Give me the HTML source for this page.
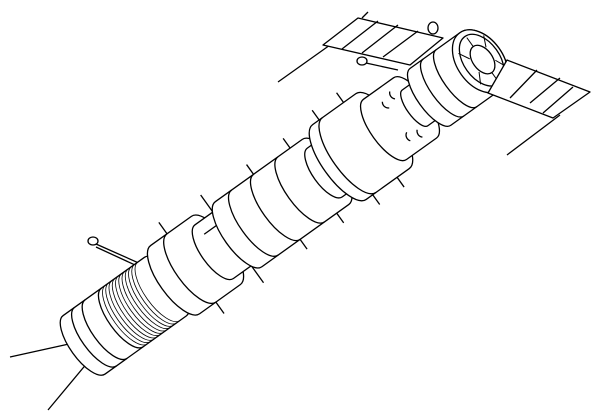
<!DOCTYPE html>
<html><head><style>html,body{margin:0;padding:0;background:#fff}svg{display:block}</style></head>
<body>
<svg width="600" height="420" viewBox="0 0 600 420" xmlns="http://www.w3.org/2000/svg" fill="#fff" stroke="#000" stroke-width="1.3" stroke-linejoin="round">
<line x1="10" y1="357" x2="78" y2="342"/>
<line x1="48" y1="410" x2="88" y2="362"/>
<line x1="278" y1="82" x2="330" y2="45"/>
<line x1="507" y1="155" x2="560" y2="115"/>
<line x1="96" y1="244" x2="150" y2="268"/>
<line x1="96" y1="247" x2="148" y2="271"/>
<ellipse cx="93" cy="241" rx="5" ry="4"/>
<g transform="translate(102,332) rotate(-35.6)">
  <g fill="none">
    <line x1="110" y1="-56" x2="110" y2="56"/>
    <line x1="160" y1="-54" x2="160" y2="54"/>
    <line x1="215" y1="-52" x2="215" y2="52"/>
    <line x1="260" y1="-52" x2="260" y2="52"/>
    <line x1="300" y1="-58" x2="300" y2="58"/>
    <line x1="330" y1="-58" x2="330" y2="58"/>
  </g>
  <path d="M-22,-36 L78,-36 A14,36 0 0 1 78,36 L-22,36 A14,36 0 0 1 -22,-36Z"/>
  <path d="M-8,-36 A14,36 0 0 0 -8,36 M5,-36 A14,36 0 0 0 5,36 M25,-36 A14,36 0 0 0 25,36" fill="none"/>
  <g fill="none" stroke-width="0.8">
    <path d="M30,-36 A14,36 0 0 0 30,36 M34,-36 A14,36 0 0 0 34,36 M38,-36 A14,36 0 0 0 38,36 M42,-36 A14,36 0 0 0 42,36 M46,-36 A14,36 0 0 0 46,36 M50,-36 A14,36 0 0 0 50,36 M54,-36 A14,36 0 0 0 54,36 M58,-36 A14,36 0 0 0 58,36 M62,-36 A14,36 0 0 0 62,36 M66,-36 A14,36 0 0 0 66,36 M70,-36 A14,36 0 0 0 70,36"/>
  </g>
  <path d="M90,-42 L140,-42 A16,42 0 0 1 140,42 L90,42 A16,42 0 0 1 90,-42Z"/>
  <path d="M110,-42 A16,42 0 0 0 110,42" fill="none"/>
  <path d="M138,-33 L170,-33 A13,33 0 0 1 170,33 L138,33 A13,33 0 0 1 138,-33Z"/>
  <line x1="140" y1="-20" x2="168" y2="-20"/>
  <path d="M168,-40 L275,-40 A15,40 0 0 1 275,40 L168,40 A15,40 0 0 1 168,-40Z"/>
  <path d="M188,-40 A15,40 0 0 0 188,40 M215,-40 A15,40 0 0 0 215,40 M245,-40 A15,40 0 0 0 245,40" fill="none"/>
  <path d="M274,-30 L294,-30 A12,30 0 0 1 294,30 L274,30 A12,30 0 0 1 274,-30Z"/>
  <path d="M292,-46 L345,-46 A17,46 0 0 1 345,46 L292,46 A17,46 0 0 1 292,-46Z"/>
  <path d="M304,-46 A17,46 0 0 0 304,46" fill="none"/>
  <path d="M348,-37 L385,-37 A14,37 0 0 1 385,37 L348,37 A14,37 0 0 1 348,-37Z"/>
  <path d="M362,-24 A6,6 0 0 0 364,-15 M374,-28 A6,6 0 0 0 374,-19 M362,24 A6,6 0 0 1 364,15 M374,28 A6,6 0 0 1 374,19" fill="none"/>
  <path d="M385,-22 L405,-22 L405,22 L385,22 A8,22 0 0 1 385,-22Z"/>
  <path d="M404,-35 L465,-35 A23,35 0 0 1 465,35 L404,35 A13,35 0 0 1 404,-35Z"/>
  <path d="M420,-35 A13,35 0 0 0 420,35 M436,-35 A13,35 0 0 0 436,35" fill="none"/>
  <ellipse cx="465" cy="0" rx="23" ry="35"/>
  <ellipse cx="467" cy="0" rx="18" ry="29"/>
  <ellipse cx="468" cy="0" rx="10" ry="16"/>
  <g fill="none" stroke-width="1">
    <line x1="468" y1="-16" x2="468" y2="-27"/><line x1="468" y1="16" x2="468" y2="27"/>
    <line x1="458" y1="-8" x2="452" y2="-19"/><line x1="478" y1="8" x2="483" y2="19"/>
    <line x1="458" y1="8" x2="452" y2="19"/><line x1="478" y1="-8" x2="483" y2="-19"/>
  </g>
</g>
<path d="M323,45 L358,18 L443,38 L410,65Z"/>
<path d="M342,49 L378,21 M362,53 L398,25 M383,57 L418,31" fill="none"/>
<line x1="362" y1="18" x2="368" y2="12"/>
<ellipse cx="433" cy="28" rx="5" ry="6"/>
<ellipse cx="362" cy="61" rx="5" ry="4"/>
<line x1="366" y1="63" x2="398" y2="70"/>
<path d="M488,93 L507,60 L590,92 L553,118Z"/>
<path d="M510,98 L537,70 M530,103 L560,78 M543,113 L573,87" fill="none"/>
</svg>
</body></html>
